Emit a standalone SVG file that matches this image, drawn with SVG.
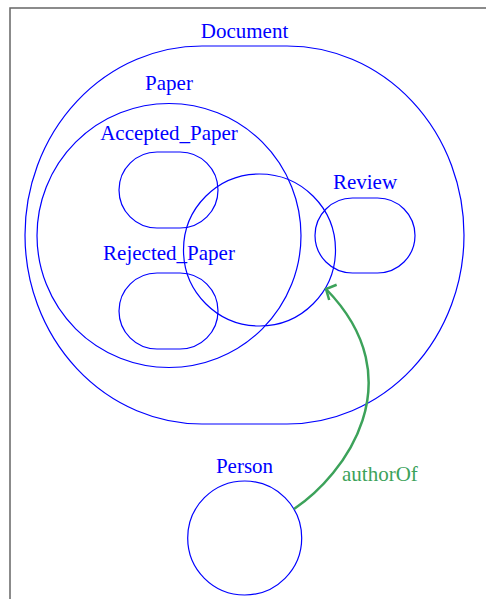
<svg xmlns="http://www.w3.org/2000/svg" width="486" height="599" viewBox="0 0 486 599">
<style>
.s{fill:none;stroke:#0000ff;stroke-width:1.2}
.t{font-family:"Liberation Serif","Times New Roman",serif;font-size:21px;fill:#0000ff;text-anchor:middle}
.e{fill:none;stroke:#3ca25a;stroke-width:2.5}
.el{font-family:"Liberation Serif","Times New Roman",serif;font-size:21px;fill:#3ca25a}
</style>
<defs>
<marker id="arr" markerUnits="userSpaceOnUse" markerWidth="30" markerHeight="30" refX="0" refY="0" viewBox="-15 -15 30 30" orient="206">
<path d="M-7.7,-8.5 L0,0 L-7.7,8.5" fill="none" stroke="#3ca25a" stroke-width="2.5"/>
</marker>
</defs>
<path d="M10,599 L10,8 L486,8" fill="none" stroke="#666" stroke-width="1.5"/>
<g id="Document">
<rect class="s" x="25" y="46" width="439" height="378" rx="177" ry="189"/>
<text class="t" x="244.5" y="38">Document</text>
</g>
<g id="Paper">
<circle class="s" cx="169" cy="235.5" r="132"/>
<text class="t" x="169" y="90">Paper</text>
</g>
<g id="Accepted_Paper">
<rect class="s" x="119" y="152" width="99" height="76" rx="38"/>
<text class="t" x="169" y="140">Accepted_Paper</text>
</g>
<g id="Rejected_Paper">
<rect class="s" x="119" y="273" width="99" height="76" rx="38"/>
<text class="t" x="169" y="260">Rejected_Paper</text>
</g>
<g id="Unnamed">
<circle class="s" cx="259.5" cy="250" r="76"/>
</g>
<g id="Review">
<rect class="s" x="315" y="198" width="100" height="75" rx="37.5"/>
<text class="t" x="365" y="188.5">Review</text>
</g>
<g id="Person">
<circle class="s" cx="244.7" cy="538" r="57"/>
<text class="t" x="244.5" y="472.5">Person</text>
</g>
<g id="connectors">
<path class="e" d="M294,509 C345,475 415,380 326,289" marker-end="url(#arr)"/>
<text class="el" x="342" y="481">authorOf</text>
</g>
</svg>
